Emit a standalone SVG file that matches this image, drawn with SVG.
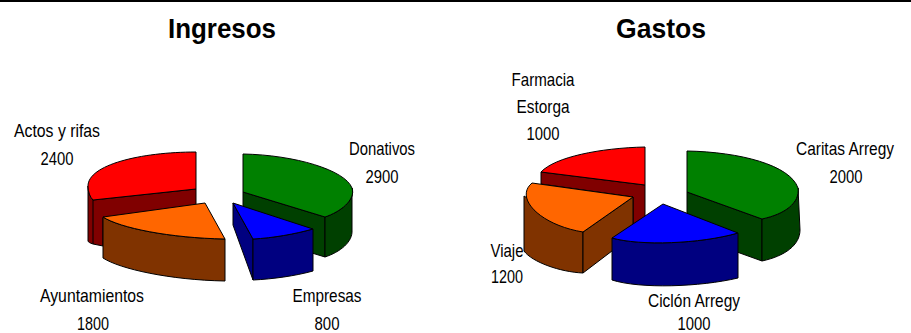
<svg xmlns="http://www.w3.org/2000/svg" width="911" height="333" viewBox="0 0 911 333">
<style>
.t{font-family:"Liberation Sans",Arial,sans-serif;font-size:19px;fill:#000;text-anchor:middle}
.h{font-family:"Liberation Sans",Arial,sans-serif;font-size:27px;font-weight:bold;fill:#000;text-anchor:middle}
path{stroke:#000;stroke-width:1;stroke-linejoin:round}
.r{fill:#FF0000}.dr{fill:#800000}
.o{fill:#FF6600}.do{fill:#803300}
.g{fill:#008000}.dg{fill:#004000}
.b{fill:#0000FF}.db{fill:#000080}
</style>
<rect x="0" y="0" width="911" height="2" fill="#000"/>
<text class="h" x="222" y="38" textLength="108" lengthAdjust="spacingAndGlyphs">Ingresos</text>
<text class="h" x="661" y="38" textLength="90" lengthAdjust="spacingAndGlyphs">Gastos</text>
<g id="ingresos">
<g id="actos">
<path class="dr" d="M88,186 C88,192 90,197 93,200 L196,189 L196,206 L103,218 L103,246 L93,244 C90,243 88,242 88,241 Z"/>
<path d="M93,200 L93,244" fill="none"/>
<path class="r" d="M196,152 C140,152 88,165 88,186 C88,192 90,197 93,200 L196,189 Z"/>
<text class="t" x="57" y="137" textLength="86" lengthAdjust="spacingAndGlyphs">Actos y rifas</text>
<text class="t" x="57" y="165" textLength="33" lengthAdjust="spacingAndGlyphs">2400</text>
</g>
<g id="donativos">
<path class="dg" d="M243,192 L325,217 L325,257 L243,232 Z"/>
<path class="dg" d="M352,188 C356,200 340,212 325,217 L325,257 C340,252 353,242 352,230 Z"/>
<path class="g" d="M243,154 C295,155 345,170 352,188 C356,200 340,212 325,217 L243,192 Z"/>
<text class="t" x="382" y="155" textLength="66" lengthAdjust="spacingAndGlyphs">Donativos</text>
<text class="t" x="382" y="183" textLength="33" lengthAdjust="spacingAndGlyphs">2900</text>
</g>
<g id="ayuntamientos">
<path class="do" d="M103,217 C120,228 170,238 225,239 L225,281 C170,280 120,269 103,258 Z"/>
<path class="o" d="M205,203 L103,217 C120,228 170,238 225,239 Z"/>
<text class="t" x="92" y="302" textLength="104" lengthAdjust="spacingAndGlyphs">Ayuntamientos</text>
<text class="t" x="93" y="330" textLength="32" lengthAdjust="spacingAndGlyphs">1800</text>
</g>
<g id="empresas">
<path class="db" d="M233,203 L253,239 L253,280 L233,225 Z"/>
<path class="db" d="M253,239 C273,238 295,234 313,229 L313,271 C295,276 273,279 253,280 Z"/>
<path class="b" d="M233,203 L253,239 C273,238 295,234 313,229 Z"/>
<text class="t" x="327" y="302" textLength="69" lengthAdjust="spacingAndGlyphs">Empresas</text>
<text class="t" x="327" y="330" textLength="25" lengthAdjust="spacingAndGlyphs">800</text>
</g>
</g>
<g id="gastos">
<g id="farmacia">
<path class="dr" d="M541,172 L645,185 L645,228 L633,228 L633,197 L541,184 Z"/>
<path class="r" d="M645,147 C600,148 555,157 541,172 L645,185 Z"/>
<text class="t" x="543" y="86" textLength="63" lengthAdjust="spacingAndGlyphs">Farmacia</text>
<text class="t" x="543" y="113" textLength="53" lengthAdjust="spacingAndGlyphs">Estorga</text>
<text class="t" x="543" y="140" textLength="33" lengthAdjust="spacingAndGlyphs">1000</text>
</g>
<g id="caritas">
<path class="dg" d="M687,192 L762,219 L762,261 L687,234 Z"/>
<path class="dg" d="M798,188 C800,203 785,214 762,219 L762,261 C785,256 800,245 800,230 Z"/>
<path class="g" d="M687,151 C740,152 790,165 798,188 C800,203 785,214 762,219 L687,192 Z"/>
<text class="t" x="845" y="155" textLength="98" lengthAdjust="spacingAndGlyphs">Caritas Arregy</text>
<text class="t" x="846" y="183" textLength="33" lengthAdjust="spacingAndGlyphs">2000</text>
</g>
<g id="viaje">
<path class="do" d="M524,196 L524,251 C532,262 560,272 583,273 L583,232 Z"/>
<path class="do" d="M583,232 L633,197 L633,235 L583,273 Z"/>
<path class="o" d="M633,197 L532,183 C514,198 540,225 583,232 Z"/>
<text class="t" x="507" y="257" textLength="33" lengthAdjust="spacingAndGlyphs">Viaje</text>
<text class="t" x="507" y="283" textLength="32" lengthAdjust="spacingAndGlyphs">1200</text>
</g>
<g id="ciclon">
<path class="db" d="M612,238 C640,246 700,244 738,233 L738,278 C700,287 640,289 612,280 Z"/>
<path class="b" d="M663,204 L612,238 C640,246 700,244 738,233 Z"/>
<text class="t" x="694" y="307" textLength="92" lengthAdjust="spacingAndGlyphs">Ciclón Arregy</text>
<text class="t" x="694" y="330" textLength="33" lengthAdjust="spacingAndGlyphs">1000</text>
</g>
</g>
<g id="connectors"/>
</svg>
